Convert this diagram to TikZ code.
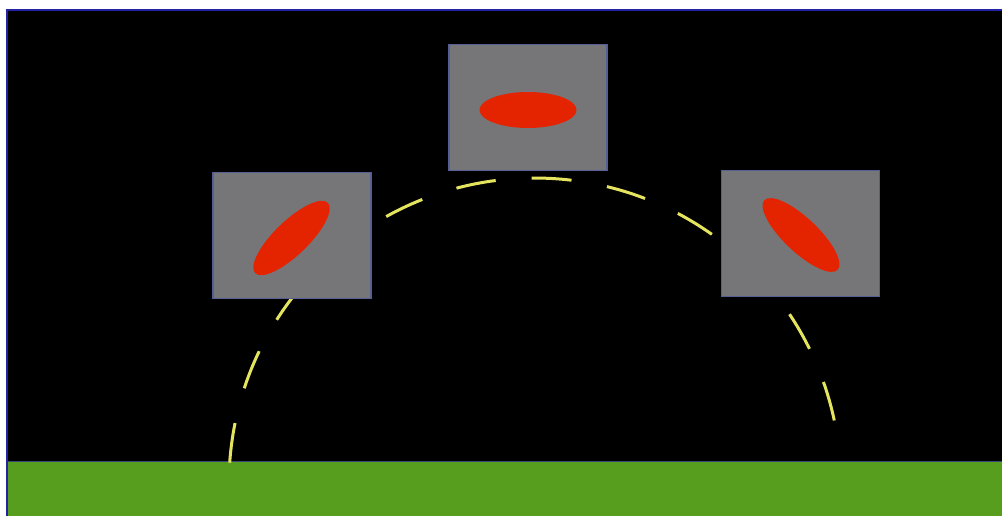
\documentclass[tikz,border=0pt]{standalone}
\usepackage{xcolor}
\usepackage{tikz}
\usetikzlibrary{shapes.geometric}

\definecolor{framecol}{RGB}{35,35,165}
\definecolor{groundgreen}{RGB}{88,158,30}
\definecolor{groundline}{RGB}{50,70,120}
\definecolor{panelgray}{RGB}{118,118,121}
\definecolor{panelline}{RGB}{85,95,150}
\definecolor{blobred}{RGB}{228,36,0}
\definecolor{trailyellow}{RGB}{228,228,95}

\begin{document}
\begin{tikzpicture}[x=1pt, y=1pt,
                panel/.style={rectangle, draw=panelline, fill=panelgray, line width=1.2pt, minimum width=158pt, minimum height=126pt, inner sep=0pt},
                blob/.style={ellipse, fill=blobred, draw=none, minimum width=101pt, minimum height=34pt, inner sep=0pt},
                trail/.style={draw=trailyellow, line width=3pt, dash pattern=on 40pt off 36pt}
            ]
                % Frame
                \useasboundingbox (0,0) rectangle (1002,516);
                \clip (0,0) rectangle (1002,516);
                \fill[white] (0,0) rectangle (1002,516);
                \draw[framecol, line width=2pt, fill=black] (7,-10) rectangle (1012,506);

                % Ground
                \fill[groundgreen] (8,0) rectangle (1012,54);
                \draw[groundline, line width=1pt] (8,54.5) -- (1012,54.5);

                % Trail
                \coordinate (trail-start) at (229.7,53.3);
                \draw[trail] (trail-start) arc[start angle=176, end angle=11, radius=306];

                % Panels
                \node[panel] (p-left) at (292,280.5) {};
                \node[panel] (p-top) at (528,408.5) {};
                \node[panel] (p-right) at (800.5,282.5) {};

                % Blobs
                \node[blob, rotate=44] (b-left) at (291.5,278) {};
                \node[blob, minimum width=97pt, minimum height=36pt] (b-top) at (528,406) {};
                \node[blob, rotate=-43.5] (b-right) at (801,281) {};
            \end{tikzpicture}
\end{document}
